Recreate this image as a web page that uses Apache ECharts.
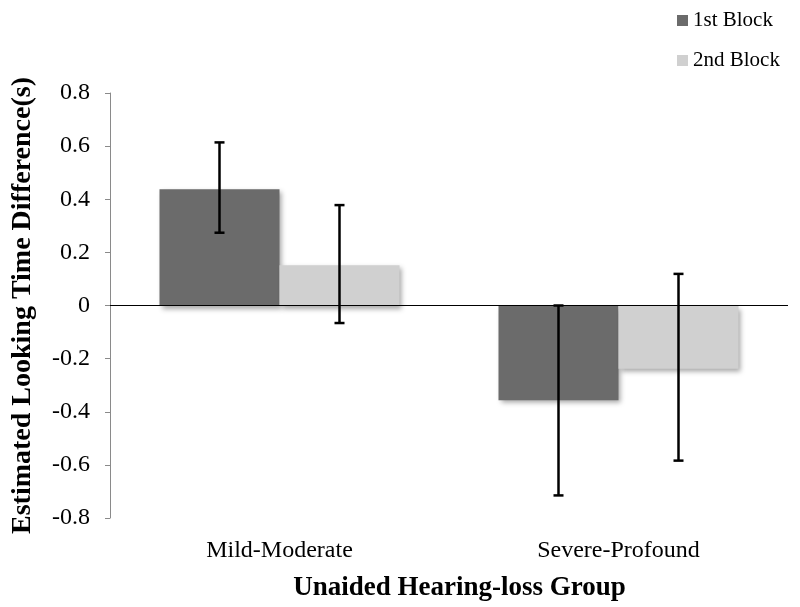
<!DOCTYPE html>
<html>
<head>
<meta charset="utf-8">
<script src="https://cdn.jsdelivr.net/npm/echarts@6/dist/echarts.min.js"></script>
<style>html,body{margin:0;padding:0;background:#fff;}#c{width:800px;height:607px;}</style>
</head>
<body>
<div id="c"></div>
<script>
const categories = ['Mild-Moderate', 'Severe-Profound'];
const seriesNames = ['1st Block', '2nd Block'];
const block1 = [0.438, -0.357];
const block2 = [0.152, -0.238];
const block1Low = [0.274, -0.715];
const block1High = [0.614, 0.0];
const block2Low = [-0.066, -0.584];
const block2High = [0.378, 0.119];
const yTicks = [-0.8, -0.6, -0.4, -0.2, 0, 0.2, 0.4, 0.6, 0.8];

const FONT = '"Liberation Serif", "Times New Roman", serif';
const BAR_W = 120;
const colors = ['#6b6b6b', '#d0d0d0'];

function errSeries(name, low, high, side) {
  return {
    type: 'custom',
    name: name + ' error',
    z: 10,
    silent: true,
    data: low.map((l, i) => [i, l, high[i]]),
    renderItem: function (params, api) {
      const off = side * BAR_W / 2;
      const top = api.coord([api.value(0), api.value(2)]);
      const bot = api.coord([api.value(0), api.value(1)]);
      const x = top[0] + off;
      const cap = 5;
      const st = { stroke: '#000', lineWidth: 2.5 };
      return {
        type: 'group',
        children: [
          { type: 'line', shape: { x1: x, y1: top[1], x2: x, y2: bot[1] }, style: st },
          { type: 'line', shape: { x1: x - cap, y1: top[1], x2: x + cap, y2: top[1] }, style: st },
          { type: 'line', shape: { x1: x - cap, y1: bot[1], x2: x + cap, y2: bot[1] }, style: st }
        ]
      };
    }
  };
}

const chart = echarts.init(document.getElementById('c'));
chart.setOption({
  animation: false,
  backgroundColor: '#fff',
  textStyle: { fontFamily: FONT },
  legend: {
    data: seriesNames,
    orient: 'vertical',
    left: 672,
    top: 5,
    itemWidth: 11,
    itemHeight: 11,
    itemGap: 19,
    icon: 'rect',
    textStyle: { fontFamily: FONT, fontSize: 21, color: '#000' }
  },
  grid: { left: 110, right: 12, top: 93, bottom: 87 },
  xAxis: {
    type: 'category',
    data: categories,
    axisLine: { show: false, onZero: false },
    axisTick: { show: false },
    axisLabel: { fontFamily: FONT, fontSize: 24, color: '#000', margin: 21 },
    name: 'Unaided Hearing-loss Group',
    nameLocation: 'middle',
    nameGap: 57,
    nameTextStyle: { fontFamily: FONT, fontSize: 27, fontWeight: 'bold', color: '#000', padding: [0, 0, 0, 21] }
  },
  yAxis: {
    type: 'value',
    min: -0.8,
    max: 0.8,
    interval: 0.2,
    axisLine: { show: true, lineStyle: { color: '#8a8a8a', width: 1 } },
    axisTick: { show: true, length: 5, lineStyle: { color: '#8a8a8a' } },
    splitLine: { show: false },
    axisLabel: {
      fontFamily: FONT, fontSize: 24, color: '#000', margin: 20,
      formatter: function (v) { const r = Math.round(v * 10) / 10; return yTicks.indexOf(r) >= 0 ? String(r) : ''; }
    },
    name: 'Estimated Looking Time Difference(s)',
    nameLocation: 'middle',
    nameGap: 73,
    nameTextStyle: { fontFamily: FONT, fontSize: 28, fontWeight: 'bold', color: '#000' }
  },
  series: [
    {
      type: 'bar', name: seriesNames[0], data: block1, barWidth: BAR_W, barGap: '0%',
      itemStyle: { color: colors[0], shadowBlur: 5, shadowOffsetX: 2, shadowOffsetY: 3, shadowColor: 'rgba(0,0,0,0.35)' },
      markLine: {
        silent: true, symbol: 'none', label: { show: false },
        lineStyle: { color: '#000', width: 1, type: 'solid' },
        data: [{ yAxis: 0 }]
      }
    },
    {
      type: 'bar', name: seriesNames[1], data: block2, barWidth: BAR_W, barGap: '0%',
      itemStyle: { color: colors[1], shadowBlur: 5, shadowOffsetX: 2, shadowOffsetY: 3, shadowColor: 'rgba(0,0,0,0.35)' }
    },
    errSeries(seriesNames[0], block1Low, block1High, -1),
    errSeries(seriesNames[1], block2Low, block2High, 1)
  ]
});
</script>
</body>
</html>
